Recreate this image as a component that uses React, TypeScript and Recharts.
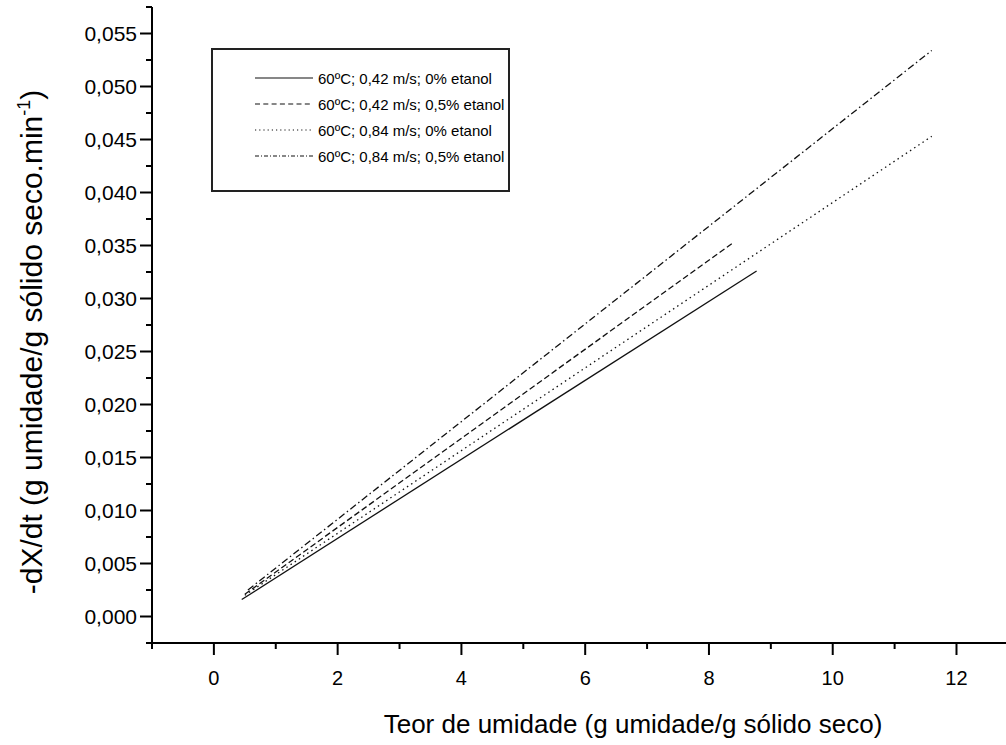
import { LineChart, Line, XAxis, YAxis, Legend } from 'recharts';

const seriesNames = [
  '60ºC; 0,42 m/s; 0% etanol',
  '60ºC; 0,42 m/s; 0,5% etanol',
  '60ºC; 0,84 m/s; 0% etanol',
  '60ºC; 0,84 m/s; 0,5% etanol',
];

// start / end points of each fitted line
const xStart = [0.45, 0.5, 0.5, 0.55];
const yStart = [0.0016, 0.0021, 0.002, 0.0025];
const xEnd = [8.77, 8.4, 11.6, 11.6];
const yEnd = [0.0326, 0.0353, 0.0453, 0.0534];

const lineDash = ['', '6 3', '1.5 3.5', '7 3 1.5 3'];
const legendDash = ['', '5 3.3', '1.2 3', '4 2 1 2'];

const xTicks = [-1, 0, 1, 2, 3, 4, 5, 6, 7, 8, 9, 10, 11, 12];
const xMajor = [0, 2, 4, 6, 8, 10, 12];
const yTicks = [
  -0.0025, 0, 0.0025, 0.005, 0.0075, 0.01, 0.0125, 0.015, 0.0175, 0.02, 0.0225, 0.025,
  0.0275, 0.03, 0.0325, 0.035, 0.0375, 0.04, 0.0425, 0.045, 0.0475, 0.05, 0.0525, 0.055, 0.0575,
];
const yMajor = [0, 0.005, 0.01, 0.015, 0.02, 0.025, 0.03, 0.035, 0.04, 0.045, 0.05, 0.055];

const FONT = '"Liberation Sans", Arial, sans-serif';

const XTick = (props: any) => {
  const { x, y, payload } = props;
  const major = xMajor.includes(payload.value);
  return (
    <g>
      <line x1={x} y1={y} x2={x} y2={y + (major ? 12 : 6)} stroke="#000" strokeWidth={2} />
      {major && (
        <text x={x} y={y + 42} textAnchor="middle" fontSize={20} fill="#000">
          {payload.value}
        </text>
      )}
    </g>
  );
};

const YTick = (props: any) => {
  const { x, y, payload } = props;
  const major = yMajor.includes(payload.value);
  return (
    <g>
      <line x1={x} y1={y} x2={x - (major ? 12 : 6)} y2={y} stroke="#000" strokeWidth={2} />
      {major && (
        <text x={x - 15} y={y + 7} textAnchor="end" fontSize={21} fill="#000">
          {payload.value.toFixed(3).replace('.', ',')}
        </text>
      )}
    </g>
  );
};

const XTitle = () => (
  <text x={633} y={733} textAnchor="middle" fontSize={26} fill="#000">
    Teor de umidade (g umidade/g sólido seco)
  </text>
);

const YTitle = () => (
  <text transform="translate(42, 342) rotate(-90)" textAnchor="middle" fontSize={30} fill="#000">
    -dX/dt (g umidade/g sólido seco.min
    <tspan dy={-12} fontSize={18}>-1</tspan>
    <tspan dy={12}>)</tspan>
  </text>
);

const LegendBox = () => (
  <div
    style={{
      boxSizing: 'border-box',
      width: 299,
      height: 144,
      border: '2px solid #222',
      background: '#fff',
      paddingTop: 15,
      fontFamily: FONT,
      textAlign: 'left',
    }}
  >
    {seriesNames.map((name, i) => (
      <div key={name} style={{ display: 'flex', alignItems: 'center', height: 26 }}>
        <svg width={58} height={10} style={{ marginLeft: 42, flexShrink: 0 }}>
          <line x1={0} y1={5} x2={58} y2={5} stroke="#111" strokeWidth={1.2} strokeDasharray={legendDash[i]} />
        </svg>
        <span style={{ marginLeft: 5, fontSize: 15, color: '#000', whiteSpace: 'nowrap' }}>{name}</span>
      </div>
    ))}
  </div>
);

export default function App() {
  return (
    <div
      style={{
        position: 'absolute',
        left: 0,
        top: 0,
        width: 1006,
        height: 745,
        background: '#fff',
        fontFamily: FONT,
      }}
    >
      <LineChart width={1006} height={745} margin={{ top: 7, right: 0, bottom: 0, left: 0 }}>
        <XAxis
          type="number"
          dataKey="x"
          domain={[-1, 12.8]}
          ticks={xTicks}
          interval={0}
          allowDataOverflow
          height={102}
          tickSize={0}
          tickMargin={0}
          tickLine={false}
          tick={<XTick />}
          axisLine={{ stroke: '#000', strokeWidth: 2 }}
          label={<XTitle />}
        />
        <YAxis
          type="number"
          dataKey="y"
          domain={[-0.0025, 0.0575]}
          ticks={yTicks}
          interval={0}
          allowDataOverflow
          width={152}
          tickSize={0}
          tickMargin={0}
          tickLine={false}
          tick={<YTick />}
          axisLine={{ stroke: '#000', strokeWidth: 2 }}
          label={<YTitle />}
        />
        <Legend
          layout="horizontal"
          verticalAlign="middle"
          align="center"
          wrapperStyle={{ left: 211, top: 48, width: 299, height: 144 }}
          content={() => <LegendBox />}
        />
        {seriesNames.map((name, i) => (
          <Line
            key={name}
            name={name}
            data={[
              { x: xStart[i], y: yStart[i] },
              { x: xEnd[i], y: yEnd[i] },
            ]}
            dataKey="y"
            type="linear"
            stroke="#111"
            strokeWidth={1.3}
            strokeDasharray={lineDash[i] || undefined}
            dot={false}
            activeDot={false}
            isAnimationActive={false}
          />
        ))}
      </LineChart>
    </div>
  );
}
